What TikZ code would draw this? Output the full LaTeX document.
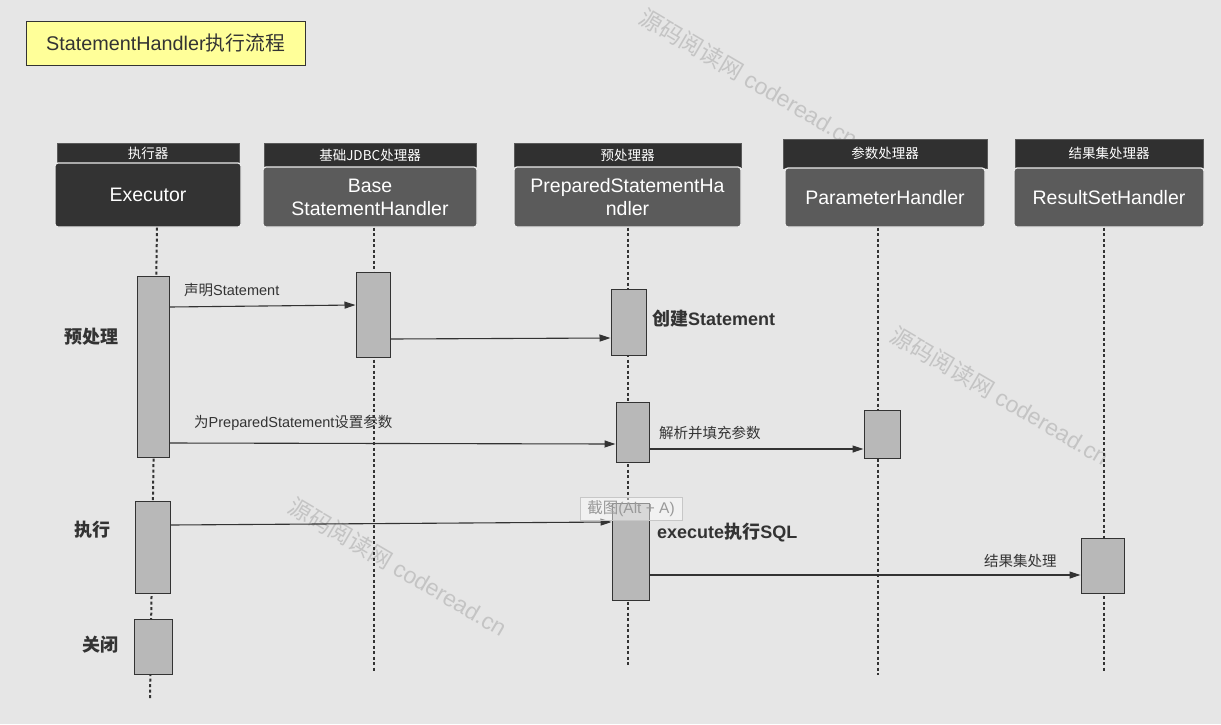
\documentclass[tikz,border=0pt]{standalone}
\usepackage{fontspec}
\setmainfont{Liberation Sans}
\newfontfamily\zhfont{Noto Sans CJK SC}
\newcommand\zh[1]{{\zhfont #1}}
\newcommand\fs[2]{\fontsize{#1}{#2}\selectfont}
\usetikzlibrary{arrows.meta}
\definecolor{bg}{HTML}{E6E6E6}
\definecolor{hdr}{HTML}{303030}
\definecolor{boxd}{HTML}{333333}
\definecolor{boxg}{HTML}{5B5B5B}
\definecolor{actf}{HTML}{B8B8B8}
\definecolor{ink}{HTML}{333333}
\definecolor{ttl}{HTML}{FFFF99}
\definecolor{wm}{HTML}{C4C4C4}
\begin{document}
\begin{tikzpicture}[x=1pt,y=-1pt,
  hdrbar/.style={draw=hdr!80!white, line width=0.6, fill=hdr, text=white, inner sep=0pt, font=\zhfont\fs{13.5}{15}},
  mainbox/.style={draw=white!92!black, line width=1.3, rounded corners=3pt, text=white, inner sep=0pt, align=center, font=\fs{19.5}{23}},
  actbox/.style={draw=ink, line width=1, fill=actf, inner sep=0pt},
  life/.style={draw=ink, line width=2, dash pattern=on 3pt off 2.5pt},
  msg/.style={draw=ink, line width=1.1, -{Triangle[length=11pt,width=7pt]}},
  msglabel/.style={text=ink, anchor=west, inner sep=0pt, font=\zhfont\fs{14.5}{16}},
  boldlabel/.style={text=ink, anchor=west, inner sep=0pt, font=\bfseries\fs{18}{20}},
  phase/.style={text=ink, inner sep=0pt, font=\zhfont\bfseries\fs{18}{20}},
  wmark/.style={text=wm, inner sep=0pt, rotate=-30.5, font=\fs{23}{25}}
]
\useasboundingbox (0,0) rectangle (1221,724);
\fill[bg] (0,0) rectangle (1221,724);

% title
\node[draw=ink, line width=1, fill=ttl, minimum width=279, minimum height=44, inner sep=0pt, text=ink, font=\fs{19.8}{23}] (title) at (165.5,43) {StatementHandler\zh{执行流程}};

% watermarks
\node[wmark] (wm1) at (749,78) {\zh{源码阅读网} coderead.cn};
\node[wmark] (wm2) at (1000,396) {\zh{源码阅读网} coderead.cn};
\node[wmark] (wm3) at (398,567) {\zh{源码阅读网} coderead.cn};

% headers
\node[hdrbar, minimum width=182, minimum height=20] (h1) at (148,153) {执行器};
\node[hdrbar, minimum width=212, minimum height=24] (h2) at (370,155) {基础JDBC处理器};
\node[hdrbar, minimum width=227, minimum height=24] (h3) at (627.5,155) {预处理器};
\node[hdrbar, minimum width=204, minimum height=29] (h4) at (885,153.5) {参数处理器};
\node[hdrbar, minimum width=188, minimum height=29] (h5) at (1109,153.5) {结果集处理器};

% main boxes
\node[mainbox, fill=boxd, minimum width=186, minimum height=64] (ex) at (148,195) {Executor};
\node[mainbox, fill=boxg, minimum width=214, minimum height=60] (bs) at (370,197) {Base\\StatementHandler};
\node[mainbox, fill=boxg, minimum width=227, minimum height=60] (ps) at (627.5,197) {PreparedStatementHa\\ndler};
\node[mainbox, fill=boxg, minimum width=200, minimum height=59] (pa) at (885,197.5) {ParameterHandler};
\node[mainbox, fill=boxg, minimum width=190, minimum height=59] (rs) at (1109,197.5) {ResultSetHandler};

% lifeline ends
\coordinate (exEnd) at (150,698);
\coordinate (bsEnd) at (374,671);
\coordinate (psEnd) at (628,666);
\coordinate (paEnd) at (878,675);
\coordinate (rsEnd) at (1104,672);

\draw[life] (ex.south -| 157,0) -- (exEnd);
\draw[life] (bs.south -| bsEnd) -- (bsEnd);
\draw[life] (ps.south -| psEnd) -- (psEnd);
\draw[life] (pa.south -| paEnd) -- (paEnd);
\draw[life] (rs.south -| rsEnd) -- (rsEnd);

% activation boxes
\node[actbox, minimum width=32, minimum height=181] (ex1) at (153,366.5) {};
\node[actbox, minimum width=35, minimum height=92] (ex2) at (152.5,547) {};
\node[actbox, minimum width=38, minimum height=55] (ex3) at (153,646.5) {};
\node[actbox, minimum width=34, minimum height=85] (bs1) at (373,314.5) {};
\node[actbox, minimum width=35, minimum height=66] (ps1) at (628.5,322) {};
\node[actbox, minimum width=33, minimum height=60] (ps2) at (632.5,432) {};
\node[actbox, minimum width=37, minimum height=97] (ps3) at (630.5,551.5) {};
\node[actbox, minimum width=36, minimum height=48] (pa1) at (882,434) {};
\node[actbox, minimum width=43, minimum height=55] (rs1) at (1102.5,565.5) {};

% messages
\draw[msg] (ex1.east |- 0,307) -- (bs1.west |- 0,305);
\draw[msg] (bs1.east |- 0,339) -- (ps1.west |- 0,338);
\draw[msg] (ex1.east |- 0,443) -- (ps2.west |- 0,444);
\draw[msg] (ps2.east |- 0,449) -- (pa1.west |- 0,449);
\draw[msg] (ex2.east |- 0,525) -- (ps3.west |- 0,522);
\draw[msg] (ps3.east |- 0,575) -- (rs1.west |- 0,575);

% message labels
\node[msglabel] (l1) at (184,290) {声明\rmfamily Statement};
\node[msglabel] (l2) at (194,423) {为{\rmfamily PreparedStatement}设置参数};
\node[msglabel] (l3) at (659,433) {解析并填充参数};
\node[msglabel] (l4) at (984,561) {结果集处理};
\node[boldlabel] (l5) at (652,319) {\zh{创建}Statement};
\node[boldlabel] (l6) at (657,533) {execute\zh{执行}SQL};

% phase labels
\node[phase] (p1) at (91,337) {预处理};
\node[phase] (p2) at (92.5,530) {执行};
\node[phase] (p3) at (100,645) {关闭};

% screenshot tooltip overlay
\node[draw=black!22, line width=0.9, fill=white, fill opacity=0.45, text opacity=1, text=black!40, minimum width=102, minimum height=23, inner sep=0pt, font=\fs{15.5}{17}] (tip) at (631,509) {\zh{截图}(Alt + A)};
\end{tikzpicture}
\end{document}
